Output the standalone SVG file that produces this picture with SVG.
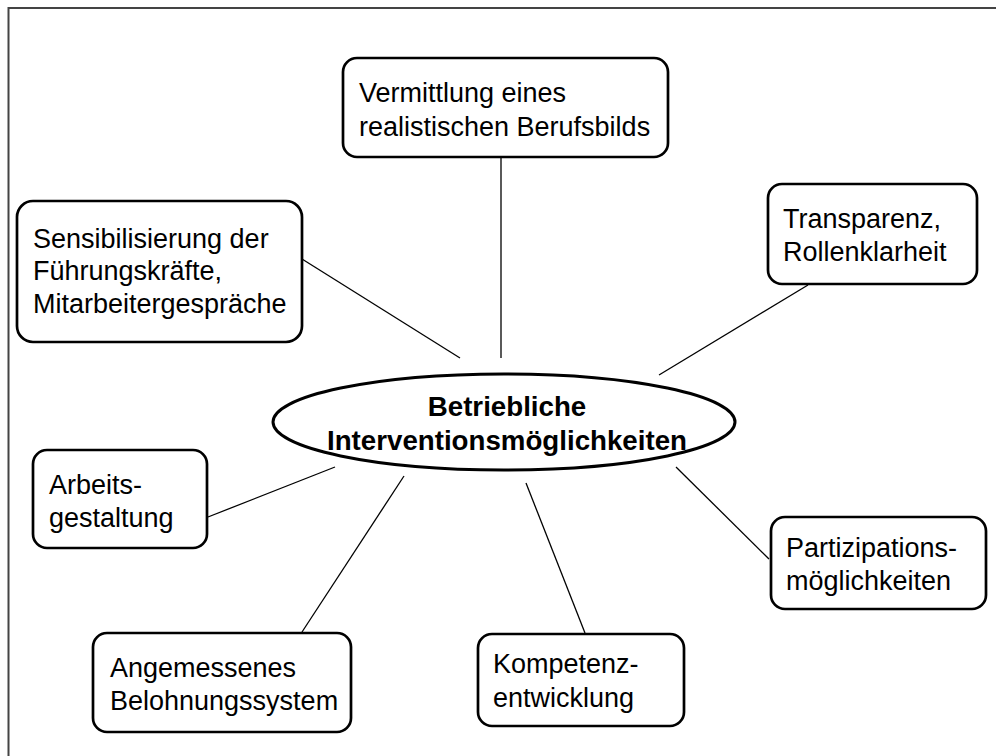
<svg xmlns="http://www.w3.org/2000/svg" width="996" height="756" viewBox="0 0 996 756">
<style>
.box{fill:#fff;stroke:#000;stroke-width:2.7}
.t{font-family:"Liberation Sans",Arial,sans-serif;font-size:27px;fill:#000}
.b{font-weight:bold;font-size:27.7px;text-anchor:middle}
.c{stroke:#000;stroke-width:1.3;fill:none}
</style>
<rect width="996" height="756" fill="#fff"/>
<path d="M8.5,756 L8.5,8 L996,8" fill="none" stroke="#444" stroke-width="2"/>
<g id="connectors">
<line class="c" x1="501" y1="157" x2="501" y2="358"/>
<line class="c" x1="302" y1="259" x2="460" y2="358"/>
<line class="c" x1="808" y1="285" x2="659" y2="375"/>
<line class="c" x1="208" y1="517" x2="335" y2="467"/>
<line class="c" x1="302" y1="632" x2="404" y2="476"/>
<line class="c" x1="526" y1="483" x2="585" y2="633"/>
<line class="c" x1="676" y1="467" x2="769" y2="559"/>
</g>
<g id="center">
<ellipse cx="504" cy="422" rx="231" ry="48" fill="#fff" stroke="#000" stroke-width="3"/>
<text class="t b" x="507" y="416">Betriebliche</text>
<text class="t b" x="507" y="450">Interventionsmöglichkeiten</text>
</g>
<g id="n-vermittlung">
<rect class="box" x="343" y="58" width="325" height="99" rx="14"/>
<text class="t" x="359" y="102">Vermittlung eines</text>
<text class="t" x="359" y="136">realistischen Berufsbilds</text>
</g>
<g id="n-sensibilisierung">
<rect class="box" x="17" y="201" width="285" height="141" rx="16"/>
<text class="t" x="33" y="248">Sensibilisierung der</text>
<text class="t" x="33" y="280">Führungskräfte,</text>
<text class="t" x="33" y="313">Mitarbeitergespräche</text>
</g>
<g id="n-transparenz">
<rect class="box" x="768" y="184" width="209" height="100" rx="14"/>
<text class="t" x="783" y="228">Transparenz,</text>
<text class="t" x="783" y="261">Rollenklarheit</text>
</g>
<g id="n-arbeit">
<rect class="box" x="33" y="450" width="174" height="98" rx="14"/>
<text class="t" x="49" y="494">Arbeits-</text>
<text class="t" x="49" y="527">gestaltung</text>
</g>
<g id="n-partizipation">
<rect class="box" x="771" y="517" width="215" height="92" rx="14"/>
<text class="t" x="786" y="557">Partizipations-</text>
<text class="t" x="786" y="590">möglichkeiten</text>
</g>
<g id="n-belohnung">
<rect class="box" x="93" y="633" width="258" height="99" rx="14"/>
<text class="t" x="110" y="677">Angemessenes</text>
<text class="t" x="110" y="710">Belohnungssystem</text>
</g>
<g id="n-kompetenz">
<rect class="box" x="478" y="634" width="206" height="92" rx="14"/>
<text class="t" x="493" y="673">Kompetenz-</text>
<text class="t" x="493" y="707">entwicklung</text>
</g>
</svg>
